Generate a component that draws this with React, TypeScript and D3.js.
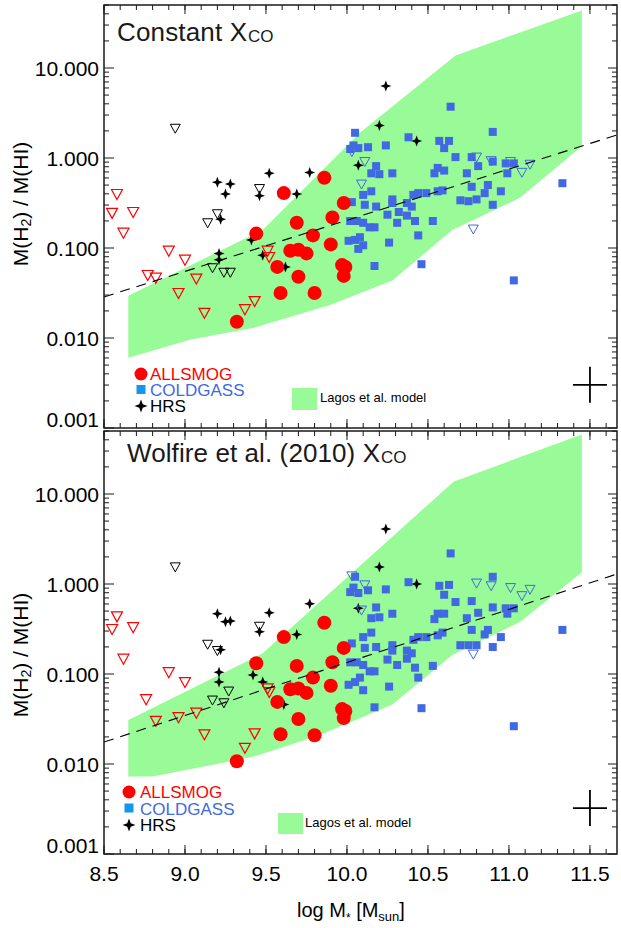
import React from "react";
import * as d3 from "d3";

type Pt = [number, number]; // [log M*, log10 M(H2)/M(HI)]

// ---------- axes ----------
const xDomain: [number, number] = [8.5, 11.667];
const yDomain: [number, number] = [0.001, 50.12];
const xMajor = [8.5, 9.0, 9.5, 10.0, 10.5, 11.0, 11.5];
const xMajorLabels = ["8.5", "9.0", "9.5", "10.0", "10.5", "11.0", "11.5"];
const yMajor = [0.001, 0.01, 0.1, 1, 10];
const yMajorLabels = ["0.001", "0.010", "0.100", "1.000", "10.000"];

// ---------- panel 1 : constant XCO ----------
const allsmogDetConst: Pt[] = [
  [9.61, -0.39], [9.86, -0.22], [9.98, -0.5], [9.91, -0.66], [9.69, -0.72], [9.44, -0.84],
  [9.79, -0.86], [9.9, -0.96], [9.65, -1.03], [9.7, -1.02], [9.75, -1.06], [9.57, -1.21],
  [9.97, -1.19], [9.99, -1.21], [9.98, -1.31], [9.7, -1.32], [9.59, -1.5], [9.8, -1.5], [9.32, -1.82],
];
const allsmogLimConst: Pt[] = [
  [8.58, -0.4], [8.55, -0.61], [8.68, -0.6], [8.62, -0.83], [8.9, -1.03], [9.0, -1.13],
  [8.77, -1.3], [8.82, -1.33], [9.07, -1.34], [8.96, -1.5], [9.12, -1.72], [9.37, -1.68],
  [9.43, -1.59], [9.51, -1.03], [9.52, -1.1],
];
const hrsDetConst: Pt[] = [
  [10.24, 0.8], [10.2, 0.36], [10.43, 0.19], [10.07, -0.08], [9.2, -0.27], [9.28, -0.29],
  [9.25, -0.4], [9.52, -0.17], [9.77, -0.16], [9.69, -0.4], [9.46, -0.42], [9.22, -0.68],
  [9.41, -0.91], [9.21, -1.06], [9.21, -1.13], [9.48, -1.08], [9.62, -1.21],
];
const hrsLimConst: Pt[] = [
  [8.94, 0.33], [9.46, -0.34], [9.2, -0.62], [9.14, -0.72], [9.17, -1.22], [9.24, -1.27], [9.28, -1.27],
];
const coldgassDetConst: Pt[] = [
  [10.64, 0.57], [10.9, 0.29], [10.05, 0.28], [10.38, 0.23], [10.04, 0.14], [10.02, 0.1],
  [10.07, 0.11], [10.13, 0.12], [10.24, 0.14], [10.57, 0.19], [10.63, 0.19], [10.6, 0.11],
  [10.67, 0.01], [10.77, 0.01], [10.81, -0.09], [10.9, -0.04], [10.98, -0.06], [11.03, -0.06],
  [10.99, -0.17], [10.18, -0.09], [10.15, -0.17], [10.2, -0.18], [10.28, -0.17], [10.54, -0.17],
  [10.56, -0.11], [10.6, -0.14], [10.74, -0.17], [10.15, -0.37], [10.1, -0.41], [10.03, -0.49],
  [10.11, -0.52], [10.18, -0.54], [10.28, -0.46], [10.28, -0.5], [10.41, -0.41], [10.44, -0.39],
  [10.49, -0.39], [10.56, -0.37], [10.59, -0.36], [10.77, -0.32], [10.87, -0.3], [10.95, -0.37],
  [10.85, -0.39], [10.8, -0.46], [10.75, -0.48], [10.7, -0.47], [10.9, -0.52], [11.33, -0.28],
  [10.37, -0.5], [10.4, -0.54], [10.25, -0.63], [10.32, -0.6], [10.37, -0.64], [10.42, -0.7],
  [10.53, -0.7], [10.02, -0.7], [10.06, -0.7], [10.1, -0.72], [10.14, -0.77], [10.17, -0.77],
  [10.31, -0.72], [10.44, -0.86], [10.01, -0.92], [10.05, -0.91], [10.08, -0.88], [10.1, -0.97],
  [10.07, -1.01], [10.26, -0.94], [10.17, -1.2], [10.46, -1.18], [11.03, -1.36],
];
const coldgassLimConst: Pt[] = [
  [10.03, 0.07], [10.11, -0.04], [10.09, -0.29], [10.8, 0.01], [10.89, -0.03], [11.01, -0.04],
  [11.08, -0.16], [11.13, -0.07], [10.78, -0.79],
];
const modelUpperConst: Pt[] = [[8.65, -1.53], [9.48, -0.8], [10.08, 0.28], [10.67, 1.14], [11.45, 1.64]];
const modelLowerConst: Pt[] = [
  [8.65, -2.22], [9.03, -2.02], [9.42, -1.89], [9.9, -1.63], [10.28, -1.36], [10.65, -0.8],
  [11.07, -0.44], [11.45, 0.13],
];
const fitConst: Pt[] = [[8.5, -1.544], [11.667, 0.256]];
const errConst: Pt = [11.5, -2.52];

// ---------- panel 2 : Wolfire et al. (2010) XCO ----------
const allsmogDetWolf: Pt[] = [
  [9.86, -0.43], [9.61, -0.59], [9.98, -0.71], [9.91, -0.87], [9.69, -0.91], [9.44, -0.88],
  [9.79, -1.04], [9.9, -1.13], [9.65, -1.17], [9.7, -1.16], [9.75, -1.21], [9.57, -1.31],
  [9.97, -1.39], [9.99, -1.41], [9.98, -1.49], [9.7, -1.5], [9.59, -1.67], [9.8, -1.68], [9.32, -1.97],
];
const allsmogLimWolf: Pt[] = [
  [8.58, -0.36], [8.55, -0.5], [8.68, -0.48], [8.62, -0.83], [8.9, -0.98], [9.0, -1.09],
  [8.76, -1.28], [8.82, -1.52], [8.96, -1.48], [9.07, -1.43], [9.12, -1.67], [9.43, -1.66],
  [9.37, -1.82], [9.51, -1.16], [9.52, -1.2],
];
const hrsDetWolf: Pt[] = [
  [10.24, 0.61], [10.2, 0.19], [10.43, 0.0], [10.07, -0.27], [9.2, -0.33], [9.28, -0.41],
  [9.25, -0.42], [9.52, -0.32], [9.77, -0.22], [9.69, -0.56], [9.46, -0.53], [9.22, -0.73],
  [9.42, -1.01], [9.21, -0.98], [9.21, -1.09], [9.48, -1.09], [9.61, -1.34],
];
const hrsLimWolf: Pt[] = [
  [8.94, 0.19], [9.46, -0.47], [9.2, -0.74], [9.14, -0.67], [9.17, -1.29], [9.24, -1.32], [9.27, -1.19],
];
const coldgassDetWolf: Pt[] = [
  [10.64, 0.34], [10.9, 0.08], [10.05, 0.08], [10.38, 0.02], [10.04, -0.04], [10.02, -0.09],
  [10.07, -0.1], [10.13, -0.07], [10.24, -0.06], [10.57, -0.02], [10.63, -0.01], [10.6, -0.12],
  [10.67, -0.2], [10.77, -0.19], [10.81, -0.32], [10.9, -0.26], [10.98, -0.27], [11.03, -0.27],
  [10.99, -0.33], [10.18, -0.26], [10.15, -0.38], [10.2, -0.37], [10.28, -0.33], [10.54, -0.39],
  [10.56, -0.33], [10.6, -0.33], [10.74, -0.38], [10.15, -0.54], [10.1, -0.59], [10.03, -0.66],
  [10.11, -0.71], [10.18, -0.7], [10.28, -0.68], [10.28, -0.74], [10.41, -0.62], [10.44, -0.59],
  [10.49, -0.59], [10.56, -0.57], [10.59, -0.54], [10.77, -0.51], [10.87, -0.51], [10.85, -0.56],
  [10.95, -0.59], [10.7, -0.68], [10.75, -0.68], [10.8, -0.68], [10.9, -0.7], [11.33, -0.51],
  [10.37, -0.74], [10.4, -0.77], [10.25, -0.84], [10.31, -0.9], [10.37, -0.83], [10.42, -0.93],
  [10.53, -0.91], [10.02, -0.87], [10.06, -0.87], [10.1, -0.9], [10.14, -0.97], [10.17, -0.97],
  [10.44, -1.04], [10.01, -1.12], [10.05, -1.09], [10.08, -1.04], [10.1, -1.18], [10.26, -1.14],
  [10.17, -1.37], [10.46, -1.38], [11.03, -1.58],
];
const coldgassLimWolf: Pt[] = [
  [10.03, 0.09], [10.11, -0.01], [10.09, -0.29], [10.8, 0.01], [10.89, -0.02], [11.01, -0.04],
  [11.08, -0.13], [11.13, -0.06], [10.78, -0.78],
];
const modelUpperWolf: Pt[] = [[8.65, -1.51], [9.48, -0.77], [10.66, 1.14], [11.45, 1.66]];
const modelLowerWolf: Pt[] = [
  [8.65, -2.14], [8.8, -2.14], [9.42, -1.92], [9.83, -1.68], [10.28, -1.34], [10.65, -0.79],
  [11.07, -0.42], [11.45, 0.13],
];
const fitWolf: Pt[] = [[8.5, -1.756], [11.667, 0.111]];
const errWolf: Pt = [11.5, -2.49];
const errHalf: Pt = [0.105, 0.2];

// ---------- layout / style ----------
const W = 621;
const H = 928;
const LEFT = 104;
const RIGHT = 617;
const FONT = "'Liberation Sans', Arial, Helvetica, sans-serif";
const RED = "#ff0000";
const BLUE = "#4169e1";
const GREEN = "#98fb98";
const AXIS = "#1a1a1a";

const x = d3.scaleLinear().domain(xDomain).range([LEFT, RIGHT]);
const xMinor = d3.range(85, 117).map((v) => v / 10);
const yMinor: number[] = [];
[0.001, 0.01, 0.1, 1, 10].forEach((d) => {
  for (let k = 2; k <= 9; k++) if (d * k <= yDomain[1]) yMinor.push(d * k);
});

const starPath = (s: number) => {
  const i = s * 0.27;
  return `M0,${-s}L${i},${-i}L${s},0L${i},${i}L0,${s}L${-i},${i}L${-s},0L${-i},${-i}Z`;
};
const triPath = (w: number, h: number) =>
  `M${-w / 2},${-h * 0.45}L${w / 2},${-h * 0.45}L0,${h * 0.55}Z`;

interface PanelCfg {
  id: string;
  y0: number;
  y1: number;
  allsmog: Pt[];
  allsmogLim: Pt[];
  hrs: Pt[];
  hrsLim: Pt[];
  cg: Pt[];
  cgLim: Pt[];
  upper: Pt[];
  lower: Pt[];
  fit: Pt[];
  err: Pt;
  title: string;
  titleX: number;
  titleY: number;
  titleLen: number;
  leg: { mx: number; tx: number; b0: number; dy: number; rx: number; ry: number; rw: number; rh: number; lx: number; lb: number };
  yLabelY: number;
  showX: boolean;
}

const panels: PanelCfg[] = [
  {
    id: "const", y0: 5, y1: 428,
    allsmog: allsmogDetConst, allsmogLim: allsmogLimConst, hrs: hrsDetConst, hrsLim: hrsLimConst,
    cg: coldgassDetConst, cgLim: coldgassLimConst, upper: modelUpperConst, lower: modelLowerConst,
    fit: fitConst, err: errConst, title: "Constant X", titleX: 117, titleY: 41, titleLen: 130,
    leg: { mx: 141, tx: 150, b0: 380, dy: 16, rx: 292, ry: 388, rw: 25, rh: 22, lx: 320, lb: 402 },
    yLabelY: 204, showX: false,
  },
  {
    id: "wolf", y0: 431, y1: 854,
    allsmog: allsmogDetWolf, allsmogLim: allsmogLimWolf, hrs: hrsDetWolf, hrsLim: hrsLimWolf,
    cg: coldgassDetWolf, cgLim: coldgassLimWolf, upper: modelUpperWolf, lower: modelLowerWolf,
    fit: fitWolf, err: errWolf, title: "Wolfire et al. (2010) X", titleX: 127, titleY: 462, titleLen: 253,
    leg: { mx: 129, tx: 140, b0: 798, dy: 16.5, rx: 278, ry: 813, rw: 25, rh: 21, lx: 305, lb: 827 },
    yLabelY: 655, showX: true,
  },
];

function Panel({ c }: { c: PanelCfg }) {
  const y = d3.scaleLog().domain(yDomain).range([c.y1, c.y0]);
  const Y = (v: number) => y(Math.pow(10, v));
  const poly = [...c.upper, ...c.lower.slice().reverse()];
  const area = d3.line<Pt>().x((d) => x(d[0])).y((d) => Y(d[1]))(poly) + "Z";
  const fitPath = d3.line<Pt>().x((d) => x(d[0])).y((d) => Y(d[1]))(c.fit) || "";
  const clipId = `clip-${c.id}`;
  const MJ = 9;
  const MN = 5;
  const L = c.leg;
  return (
    <g>
      <defs>
        <clipPath id={clipId}>
          <rect x={LEFT} y={c.y0} width={RIGHT - LEFT} height={c.y1 - c.y0} />
        </clipPath>
      </defs>
      <g clipPath={`url(#${clipId})`}>
        <path d={area} fill={GREEN} />
        {c.hrsLim.map((d, i) => (
          <path key={`hl${i}`} d={triPath(10, 9)} transform={`translate(${x(d[0])},${Y(d[1])})`} fill="none" stroke="#000" strokeWidth={1} />
        ))}
        {c.hrs.map((d, i) => (
          <path key={`hd${i}`} d={starPath(5.5)} transform={`translate(${x(d[0])},${Y(d[1])})`} fill="#000" />
        ))}
        {c.cgLim.map((d, i) => (
          <path key={`cl${i}`} d={triPath(10, 9)} transform={`translate(${x(d[0])},${Y(d[1])})`} fill="none" stroke={BLUE} strokeWidth={1} />
        ))}
        {c.cg.map((d, i) => (
          <rect key={`cd${i}`} x={x(d[0]) - 4} y={Y(d[1]) - 4} width={8} height={8} fill={BLUE} />
        ))}
        {c.allsmogLim.map((d, i) => (
          <path key={`al${i}`} d={triPath(11, 10)} transform={`translate(${x(d[0])},${Y(d[1])})`} fill="none" stroke={RED} strokeWidth={1.2} />
        ))}
        {c.allsmog.map((d, i) => (
          <circle key={`ad${i}`} cx={x(d[0])} cy={Y(d[1])} r={7} fill={RED} />
        ))}
        <path d={fitPath} fill="none" stroke="#000" strokeWidth={1.1} strokeDasharray="10,7" />
      </g>

      {/* error cross */}
      <line x1={x(c.err[0] - errHalf[0])} x2={x(c.err[0] + errHalf[0])} y1={Y(c.err[1])} y2={Y(c.err[1])} stroke="#000" strokeWidth={1.8} />
      <line x1={x(c.err[0])} x2={x(c.err[0])} y1={Y(c.err[1] - errHalf[1])} y2={Y(c.err[1] + errHalf[1])} stroke="#000" strokeWidth={1.8} />

      {/* legend */}
      <circle cx={L.mx} cy={L.b0 - 6} r={6.5} fill={RED} />
      <text x={L.tx} y={L.b0} fontSize={17} fill={RED} fontFamily={FONT}>ALLSMOG</text>
      <rect x={L.mx - 4.5} y={L.b0 + L.dy - 11} width={9} height={9} fill="#1496f0" />
      <text x={L.tx} y={L.b0 + L.dy} fontSize={17} fill={BLUE} fontFamily={FONT}>COLDGASS</text>
      <path d={starPath(6.5)} transform={`translate(${L.mx},${L.b0 + 2 * L.dy - 6})`} fill="#000" />
      <text x={L.tx} y={L.b0 + 2 * L.dy} fontSize={17} fill="#000" fontFamily={FONT}>HRS</text>
      <rect x={L.rx} y={L.ry} width={L.rw} height={L.rh} fill={GREEN} />
      <text x={L.lx} y={L.lb} fontSize={13} fill="#000" fontFamily={FONT}>Lagos et al. model</text>

      {/* title */}
      <text x={c.titleX} y={c.titleY} fontSize={26} fill="#1a1a1a" fontFamily={FONT} textLength={c.titleLen} lengthAdjust="spacing">{c.title}</text>
      <text x={c.titleX + c.titleLen + 1} y={c.titleY + 1} fontSize={17} fill="#1a1a1a" fontFamily={FONT}>CO</text>

      {/* frame */}
      <rect x={LEFT} y={c.y0} width={RIGHT - LEFT} height={c.y1 - c.y0} fill="none" stroke={AXIS} strokeWidth={1.5} />

      {/* x ticks */}
      {xMinor.map((t, i) => (
        <g key={`xm${i}`}>
          <line x1={x(t)} x2={x(t)} y1={c.y1} y2={c.y1 - MN} stroke={AXIS} strokeWidth={1} />
          <line x1={x(t)} x2={x(t)} y1={c.y0} y2={c.y0 + MN} stroke={AXIS} strokeWidth={1} />
        </g>
      ))}
      {xMajor.map((t, i) => (
        <g key={`xM${i}`}>
          <line x1={x(t)} x2={x(t)} y1={c.y1} y2={c.y1 - MJ} stroke={AXIS} strokeWidth={1} />
          <line x1={x(t)} x2={x(t)} y1={c.y0} y2={c.y0 + MJ} stroke={AXIS} strokeWidth={1} />
          {c.showX && (
            <text x={x(t)} y={881} fontSize={21} textAnchor="middle" fill="#000" fontFamily={FONT}>{xMajorLabels[i]}</text>
          )}
        </g>
      ))}

      {/* y ticks */}
      {yMinor.map((t, i) => (
        <g key={`ym${i}`}>
          <line x1={LEFT} x2={LEFT + MN} y1={y(t)} y2={y(t)} stroke={AXIS} strokeWidth={1} />
          <line x1={RIGHT} x2={RIGHT - MN} y1={y(t)} y2={y(t)} stroke={AXIS} strokeWidth={1} />
        </g>
      ))}
      {yMajor.map((t, i) => (
        <g key={`yM${i}`}>
          <line x1={LEFT} x2={LEFT + MJ + 1} y1={y(t)} y2={y(t)} stroke={AXIS} strokeWidth={1} />
          <line x1={RIGHT} x2={RIGHT - MJ} y1={y(t)} y2={y(t)} stroke={AXIS} strokeWidth={1} />
          <text x={99} y={y(t) + (i === 0 ? -9 : 0)} dy="0.36em" fontSize={21} textAnchor="end" fill="#000" fontFamily={FONT}>{yMajorLabels[i]}</text>
        </g>
      ))}

      {/* y label */}
      <text transform={`translate(28,${c.yLabelY}) rotate(-90)`} fontSize={21} textAnchor="middle" fill="#000" fontFamily={FONT}>
        M(H<tspan fontSize={14} dy={3}>2</tspan><tspan dy={-3}>) / M(HI)</tspan>
      </text>
    </g>
  );
}

export default function App() {
  return (
    <svg width={W} height={H} viewBox={`0 0 ${W} ${H}`} style={{ position: "absolute", left: 0, top: 0, background: "#fff" }}>
      <rect x={0} y={0} width={W} height={H} fill="#fff" />
      {panels.map((c) => (
        <Panel key={c.id} c={c} />
      ))}
      <text x={297} y={917} fontSize={20} fill="#000" fontFamily={FONT}>
        log M<tspan fontSize={12} dy={5}>*</tspan>
        <tspan fontSize={20} dy={-5}> [M</tspan>
        <tspan fontSize={13} dy={4}>sun</tspan>
        <tspan fontSize={20} dy={-4}>]</tspan>
      </text>
    </svg>
  );
}
